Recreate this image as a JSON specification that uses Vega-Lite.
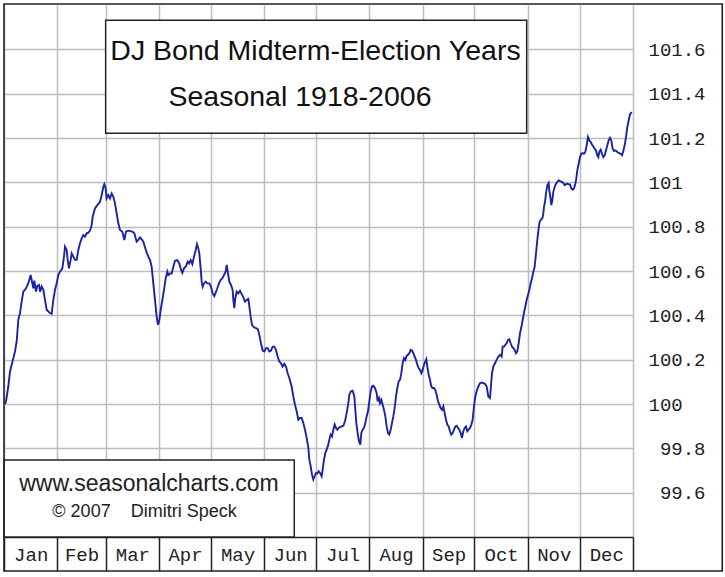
{
  "$schema": "https://vega.github.io/schema/vega-lite/v6.json",
  "description": "DJ Bond seasonal pattern in midterm-election years, 1918-2006.",
  "width": 629,
  "height": 532,
  "autosize": {"type": "none"},
  "padding": {"left": 4, "top": 5, "right": 92, "bottom": 40},
  "background": "white",
  "config": {"view": {"stroke": null}},
  "layer": [
    {
      "data": {"values": [
        {"day":0.58,"value":100.000},{"day":1.16,"value":100.012},{"day":2.51,"value":100.080},{"day":3.48,"value":100.147},{"day":4.45,"value":100.177},{"day":5.42,"value":100.207},{"day":6.38,"value":100.237},{"day":7.35,"value":100.282},{"day":8.32,"value":100.380},{"day":9.28,"value":100.410},{"day":10.25,"value":100.462},{"day":11.22,"value":100.507},{"day":12.77,"value":100.522},{"day":14.12,"value":100.545},{"day":15.47,"value":100.582},{"day":16.44,"value":100.545},{"day":17.02,"value":100.522},{"day":17.60,"value":100.557},{"day":18.57,"value":100.507},{"day":19.34,"value":100.533},{"day":20.31,"value":100.537},{"day":20.89,"value":100.507},{"day":21.86,"value":100.530},{"day":22.82,"value":100.515},{"day":23.79,"value":100.470},{"day":24.76,"value":100.425},{"day":26.31,"value":100.413},{"day":27.66,"value":100.407},{"day":28.63,"value":100.470},{"day":29.59,"value":100.515},{"day":30.56,"value":100.545},{"day":31.53,"value":100.582},{"day":32.50,"value":100.597},{"day":33.85,"value":100.612},{"day":34.82,"value":100.665},{"day":35.40,"value":100.710},{"day":36.36,"value":100.695},{"day":36.94,"value":100.650},{"day":37.72,"value":100.612},{"day":38.68,"value":100.650},{"day":39.26,"value":100.680},{"day":40.23,"value":100.665},{"day":41.20,"value":100.650},{"day":42.17,"value":100.650},{"day":43.13,"value":100.695},{"day":44.10,"value":100.725},{"day":45.07,"value":100.747},{"day":46.03,"value":100.762},{"day":47.00,"value":100.755},{"day":47.97,"value":100.770},{"day":48.94,"value":100.773},{"day":49.90,"value":100.782},{"day":50.87,"value":100.807},{"day":51.45,"value":100.845},{"day":52.80,"value":100.882},{"day":54.16,"value":100.897},{"day":55.71,"value":100.912},{"day":56.67,"value":100.942},{"day":57.64,"value":100.980},{"day":58.22,"value":100.992},{"day":58.99,"value":100.972},{"day":59.57,"value":100.927},{"day":60.54,"value":100.942},{"day":61.51,"value":100.927},{"day":62.48,"value":100.950},{"day":63.44,"value":100.935},{"day":64.41,"value":100.905},{"day":65.38,"value":100.860},{"day":66.34,"value":100.815},{"day":67.31,"value":100.785},{"day":68.67,"value":100.777},{"day":69.83,"value":100.740},{"day":70.79,"value":100.777},{"day":72.15,"value":100.782},{"day":73.50,"value":100.780},{"day":74.66,"value":100.777},{"day":75.63,"value":100.770},{"day":76.98,"value":100.732},{"day":77.95,"value":100.740},{"day":78.92,"value":100.752},{"day":79.88,"value":100.743},{"day":80.85,"value":100.732},{"day":81.82,"value":100.707},{"day":82.79,"value":100.683},{"day":83.75,"value":100.665},{"day":84.72,"value":100.650},
        {"day":85.69,"value":100.619},{"day":86.65,"value":100.544},{"day":87.62,"value":100.469},{"day":88.59,"value":100.394},{"day":89.36,"value":100.357},{"day":90.14,"value":100.379},{"day":90.91,"value":100.424},{"day":91.88,"value":100.469},{"day":92.84,"value":100.514},{"day":93.81,"value":100.567},{"day":94.78,"value":100.597},{"day":95.36,"value":100.582},{"day":96.32,"value":100.589},{"day":97.29,"value":100.589},{"day":98.26,"value":100.619},{"day":99.23,"value":100.646},{"day":100.58,"value":100.649},{"day":101.74,"value":100.634},{"day":102.51,"value":100.612},{"day":103.48,"value":100.592},{"day":104.45,"value":100.612},{"day":105.61,"value":100.622},{"day":106.58,"value":100.642},{"day":107.35,"value":100.634},{"day":108.32,"value":100.649},{"day":109.28,"value":100.631},{"day":110.25,"value":100.664},{"day":111.22,"value":100.694},{"day":111.99,"value":100.721},{"day":112.77,"value":100.702},{"day":113.35,"value":100.679},{"day":114.12,"value":100.612},{"day":114.70,"value":100.552},{"day":115.28,"value":100.529},{"day":116.05,"value":100.544},{"day":117.02,"value":100.552},{"day":117.99,"value":100.544},{"day":119.15,"value":100.544},{"day":120.12,"value":100.529},{"day":121.08,"value":100.499},{"day":122.05,"value":100.487},{"day":122.82,"value":100.502},{"day":123.79,"value":100.522},{"day":124.76,"value":100.544},{"day":125.73,"value":100.559},{"day":126.69,"value":100.567},{"day":127.66,"value":100.582},{"day":128.63,"value":100.597},{"day":129.21,"value":100.627},{"day":129.98,"value":100.589},{"day":130.75,"value":100.552},{"day":131.72,"value":100.537},{"day":132.69,"value":100.514},{"day":133.08,"value":100.469},{"day":133.66,"value":100.432},{"day":134.24,"value":100.477},{"day":135.01,"value":100.507},{"day":135.98,"value":100.499},{"day":136.94,"value":100.511},{"day":137.91,"value":100.496},{"day":138.88,"value":100.481},{"day":139.85,"value":100.462},{"day":140.81,"value":100.469},{"day":141.78,"value":100.474},{"day":142.36,"value":100.442},{"day":143.13,"value":100.394},{"day":143.91,"value":100.357},{"day":145.07,"value":100.346},{"day":146.23,"value":100.342},{"day":147.39,"value":100.337},{"day":148.16,"value":100.312},{"day":149.13,"value":100.274},{"day":150.10,"value":100.241},{"day":151.06,"value":100.237},{"day":152.03,"value":100.252},{"day":153.00,"value":100.252},{"day":153.97,"value":100.237},{"day":154.93,"value":100.241},{"day":155.90,"value":100.259},{"day":156.87,"value":100.259},{"day":157.83,"value":100.244},{"day":158.80,"value":100.214},{"day":159.77,"value":100.192},{"day":160.74,"value":100.184},{"day":161.70,"value":100.169},{"day":162.67,"value":100.181},{"day":163.64,"value":100.169},{"day":164.60,"value":100.139},{"day":165.57,"value":100.117},
        {"day":166.92,"value":100.079},{"day":167.89,"value":100.034},{"day":168.86,"value":99.997},{"day":169.83,"value":99.967},{"day":170.79,"value":99.929},{"day":171.76,"value":99.937},{"day":172.73,"value":99.937},{"day":173.69,"value":99.914},{"day":174.66,"value":99.884},{"day":175.63,"value":99.847},{"day":176.60,"value":99.802},{"day":177.18,"value":99.749},{"day":177.95,"value":99.719},{"day":178.72,"value":99.682},{"day":179.50,"value":99.659},{"day":180.27,"value":99.674},{"day":181.04,"value":99.689},{"day":181.82,"value":99.686},{"day":182.59,"value":99.697},{"day":183.37,"value":99.689},{"day":184.33,"value":99.674},{"day":184.91,"value":99.704},{"day":185.69,"value":99.749},{"day":186.46,"value":99.779},{"day":187.23,"value":99.794},{"day":188.01,"value":99.812},{"day":188.78,"value":99.839},{"day":189.56,"value":99.862},{"day":190.33,"value":99.854},{"day":191.10,"value":99.884},{"day":191.88,"value":99.907},{"day":192.65,"value":99.892},{"day":193.42,"value":99.884},{"day":194.20,"value":99.892},{"day":194.97,"value":99.896},{"day":195.94,"value":99.899},{"day":196.91,"value":99.902},{"day":197.87,"value":99.922},{"day":198.84,"value":99.959},{"day":199.81,"value":100.004},{"day":200.39,"value":100.042},{"day":201.35,"value":100.057},{"day":202.32,"value":100.060},{"day":203.29,"value":100.034},{"day":203.87,"value":99.974},{"day":204.45,"value":99.914},{"day":205.22,"value":99.869},{"day":205.99,"value":99.832},{"day":206.77,"value":99.817},{"day":207.35,"value":99.869},{"day":208.12,"value":99.884},{"day":208.90,"value":99.892},{"day":209.67,"value":99.914},{"day":210.44,"value":99.944},{"day":211.22,"value":99.967},{"day":211.99,"value":100.012},{"day":212.77,"value":100.057},{"day":213.54,"value":100.079},{"day":214.31,"value":100.082},{"day":215.28,"value":100.072},{"day":216.25,"value":100.049},{"day":216.83,"value":100.012},{"day":217.60,"value":100.027},{"day":218.18,"value":100.004},{"day":218.96,"value":100.019},{"day":219.73,"value":99.997},{"day":220.50,"value":99.974},{"day":221.28,"value":99.944},{"day":222.05,"value":99.899},{"day":222.82,"value":99.869},{"day":223.60,"value":99.862},{"day":224.37,"value":99.884},{"day":225.15,"value":99.914},{"day":225.92,"value":99.944},{"day":226.69,"value":99.982},{"day":227.47,"value":100.034},{"day":228.24,"value":100.072},{"day":229.01,"value":100.102},{"day":229.79,"value":100.109},{"day":230.56,"value":100.139},{"day":231.33,"value":100.184},{"day":232.11,"value":100.207},{"day":232.88,"value":100.199},{"day":233.66,"value":100.217},{"day":234.43,"value":100.222},{"day":235.20,"value":100.229},{"day":235.98,"value":100.244},{"day":236.75,"value":100.241},{"day":237.52,"value":100.229},{"day":238.30,"value":100.214},{"day":239.07,"value":100.199},{"day":239.85,"value":100.177},{"day":240.62,"value":100.162},{"day":241.39,"value":100.154},{"day":242.17,"value":100.139},{"day":242.94,"value":100.154},{"day":243.71,"value":100.177},{"day":244.49,"value":100.192},{"day":245.07,"value":100.202},{"day":245.65,"value":100.169},{"day":246.42,"value":100.132},{"day":247.20,"value":100.109},{"day":247.97,"value":100.079},{"day":248.74,"value":100.072},{"day":249.52,"value":100.072},{"day":250.29,"value":100.064},{"day":251.06,"value":100.042},{"day":251.84,"value":100.012},{"day":252.61,"value":99.997},{"day":253.38,"value":99.982},{"day":254.16,"value":99.974},{"day":254.93,"value":99.989},{"day":255.71,"value":99.959},{"day":256.48,"value":99.929},{"day":257.25,"value":99.907},{"day":258.03,"value":99.899},{"day":258.80,"value":99.877},{"day":259.57,"value":99.862},{"day":260.35,"value":99.869},{"day":261.12,"value":99.884},{"day":261.90,"value":99.899},{"day":262.67,"value":99.902},{"day":263.44,"value":99.892},{"day":264.22,"value":99.884},{"day":264.99,"value":99.869},{"day":265.76,"value":99.847},{"day":266.54,"value":99.877},{"day":267.31,"value":99.892},{"day":268.09,"value":99.899},{"day":268.86,"value":99.877},{"day":269.63,"value":99.884},{"day":270.41,"value":99.892},{"day":271.18,"value":99.907},{"day":271.95,"value":99.929},{"day":272.73,"value":99.989},{"day":273.50,"value":100.034},{"day":274.27,"value":100.057},{"day":275.24,"value":100.079},{"day":276.21,"value":100.094},{"day":277.18,"value":100.097},{"day":278.14,"value":100.094},{"day":279.11,"value":100.091},{"day":280.08,"value":100.079},{"day":281.04,"value":100.034},{"day":282.01,"value":100.027},
        {"day":282.40,"value":100.064},{"day":283.17,"value":100.139},{"day":283.95,"value":100.169},{"day":284.91,"value":100.184},{"day":285.88,"value":100.199},{"day":286.85,"value":100.214},{"day":287.81,"value":100.222},{"day":288.78,"value":100.214},{"day":289.36,"value":100.259},{"day":290.14,"value":100.259},{"day":290.91,"value":100.267},{"day":291.68,"value":100.274},{"day":292.46,"value":100.289},{"day":293.23,"value":100.292},{"day":294.00,"value":100.274},{"day":294.78,"value":100.259},{"day":295.55,"value":100.252},{"day":296.32,"value":100.244},{"day":297.10,"value":100.229},{"day":297.87,"value":100.237},{"day":298.65,"value":100.274},{"day":299.42,"value":100.319},{"day":300.19,"value":100.346},{"day":300.97,"value":100.379},{"day":301.74,"value":100.412},{"day":302.51,"value":100.439},{"day":303.29,"value":100.469},{"day":304.06,"value":100.492},{"day":304.84,"value":100.514},{"day":305.61,"value":100.544},{"day":306.38,"value":100.567},{"day":307.16,"value":100.597},{"day":307.93,"value":100.619},{"day":308.51,"value":100.664},{"day":309.09,"value":100.709},{"day":309.67,"value":100.754},{"day":310.25,"value":100.792},{"day":310.83,"value":100.822},{"day":311.61,"value":100.832},{"day":312.38,"value":100.837},{"day":312.96,"value":100.859},{"day":313.35,"value":100.889},{"day":313.93,"value":100.912},{"day":314.51,"value":100.949},{"day":315.28,"value":100.987},{"day":316.05,"value":100.997},{"day":316.44,"value":100.964},{"day":317.02,"value":100.934},{"day":317.60,"value":100.897},{"day":318.18,"value":100.919},{"day":318.76,"value":100.957},{"day":319.54,"value":100.979},{"day":320.31,"value":100.994},{"day":321.08,"value":101.002},{"day":321.86,"value":101.009},{"day":322.63,"value":101.006},{"day":323.60,"value":101.002},{"day":324.56,"value":100.997},{"day":325.34,"value":100.987},{"day":326.11,"value":100.991},{"day":326.89,"value":100.994},{"day":327.66,"value":100.991},{"day":328.43,"value":100.991},{"day":329.21,"value":100.972},{"day":329.98,"value":100.967},{"day":330.75,"value":100.972},{"day":331.53,"value":100.994},{"day":332.11,"value":101.017},{"day":332.69,"value":101.054},{"day":333.46,"value":101.084},{"day":334.24,"value":101.114},{"day":335.01,"value":101.129},{"day":335.78,"value":101.132},{"day":336.56,"value":101.129},{"day":337.33,"value":101.137},{"day":338.10,"value":101.167},{"day":338.88,"value":101.204},{"day":339.65,"value":101.189},{"day":340.43,"value":101.182},{"day":341.20,"value":101.171},{"day":341.97,"value":101.162},{"day":342.75,"value":101.152},{"day":343.52,"value":101.144},{"day":344.29,"value":101.122},{"day":344.87,"value":101.114},{"day":345.45,"value":101.137},{"day":346.23,"value":101.147},{"day":347.00,"value":101.129},{"day":347.78,"value":101.114},{"day":348.55,"value":101.122},{"day":349.32,"value":101.144},{"day":350.10,"value":101.167},{"day":350.87,"value":101.189},{"day":351.64,"value":101.201},{"day":352.42,"value":101.189},{"day":353.19,"value":101.152},{"day":353.97,"value":101.141},{"day":354.74,"value":101.144},{"day":355.51,"value":101.140},{"day":356.29,"value":101.134},{"day":357.06,"value":101.132},{"day":357.83,"value":101.129},{"day":358.61,"value":101.122},{"day":359.38,"value":101.141},{"day":360.15,"value":101.167},{"day":360.93,"value":101.204},{"day":361.70,"value":101.249},{"day":362.48,"value":101.279},{"day":363.25,"value":101.306},{"day":364.22,"value":101.317}
      ]},
      "mark": {"type": "line", "color": "#1a23a6", "strokeWidth": 1.9},
      "encoding": {
        "x": {
          "field": "day",
          "type": "quantitative",
          "scale": {"domain": [0, 365], "nice": false, "zero": false},
          "axis": {
            "title": null,
            "values": [0, 31, 59, 90, 120, 151, 181, 212, 243, 273, 304, 334, 365],
            "labelExpr": "['Jan','Feb','Mar','Apr','May','Jun','Jul','Aug','Sep','Oct','Nov','Dec',''][indexof([0,31,59,90,120,151,181,212,243,273,304,334,365], datum.value)]",
            "grid": true,
            "gridColor": "#bdbdbd",
            "gridWidth": 1.5,
            "domainColor": "#222222",
            "domainWidth": 1.5,
            "tickColor": "#222222",
            "tickWidth": 1.5,
            "tickSize": 34,
            "labelFont": "Liberation Mono",
            "labelFontSize": 19,
            "labelColor": "#222222",
            "labelOverlap": false,
            "labelFlush": false,
            "labelBound": false,
            "labelAlign": "center",
            "labelBaseline": "middle",
            "labelPadding": -16.5,
            "labelOffset": {
              "condition": [
                {"test": "datum.value == 31", "value": 24.1},
                {"test": "indexof([90,151,243,304], datum.value) >= 0", "value": 25.9}
              ],
              "value": 26.7
            }
          }
        },
        "y": {
          "field": "value",
          "type": "quantitative",
          "scale": {"domain": [99.4, 101.8], "nice": false, "zero": false},
          "axis": {
            "orient": "right",
            "title": null,
            "values": [99.6, 99.8, 100, 100.2, 100.4, 100.6, 100.8, 101, 101.2, 101.4, 101.6],
            "format": ".1~f",
            "grid": true,
            "gridColor": "#bdbdbd",
            "gridWidth": 1.5,
            "ticks": false,
            "domain": false,
            "labelFont": "Liberation Mono",
            "labelFontSize": 19,
            "labelColor": "#222222",
            "labelAlign": {"condition": {"test": "datum.value < 100", "value": "right"}, "value": "left"},
            "labelPadding": {"condition": {"test": "datum.value < 100", "value": 72}, "value": 15},
            "labelBaseline": "middle"
          }
        }
      }
    },
    {
      "data": {"values": [{}]},
      "mark": {"type": "rect", "fill": "white", "stroke": "#222222", "strokeWidth": 1.5},
      "encoding": {
        "x": {"datum": 58.99, "type": "quantitative"},
        "x2": {"datum": 303.31},
        "y": {"datum": 101.731, "type": "quantitative"},
        "y2": {"datum": 101.221}
      }
    },
    {
      "data": {"values": [{}]},
      "mark": {"type": "text", "font": "Liberation Sans", "fontSize": 28.5, "color": "#111111", "align": "center", "baseline": "alphabetic", "text": "DJ Bond Midterm-Election Years"},
      "encoding": {
        "x": {"datum": 180.76, "type": "quantitative"},
        "y": {"datum": 101.552, "type": "quantitative"}
      }
    },
    {
      "data": {"values": [{}]},
      "mark": {"type": "text", "font": "Liberation Sans", "fontSize": 28.5, "color": "#111111", "align": "center", "baseline": "alphabetic", "text": "Seasonal 1918-2006"},
      "encoding": {
        "x": {"datum": 171.76, "type": "quantitative"},
        "y": {"datum": 101.346, "type": "quantitative"}
      }
    },
    {
      "data": {"values": [{}]},
      "mark": {"type": "rect", "fill": "white", "stroke": "#222222", "strokeWidth": 1.5},
      "encoding": {
        "x": {"datum": 0, "type": "quantitative"},
        "x2": {"datum": 168.45},
        "y": {"datum": 99.747, "type": "quantitative"},
        "y2": {"datum": 99.4}
      }
    },
    {
      "data": {"values": [{}]},
      "mark": {"type": "text", "font": "Liberation Sans", "fontSize": 23, "color": "#222222", "align": "center", "baseline": "alphabetic", "text": "www.seasonalcharts.com"},
      "encoding": {
        "x": {"datum": 84.14, "type": "quantitative"},
        "y": {"datum": 99.609, "type": "quantitative"}
      }
    },
    {
      "data": {"values": [{}]},
      "mark": {"type": "text", "font": "Liberation Sans", "fontSize": 18, "color": "#222222", "align": "center", "baseline": "alphabetic", "text": "© 2007\u00a0\u00a0\u00a0\u00a0Dimitri Speck"},
      "encoding": {
        "x": {"datum": 81.53, "type": "quantitative"},
        "y": {"datum": 99.492, "type": "quantitative"}
      }
    },
    {
      "data": {"values": [{}]},
      "mark": {"type": "rect", "fill": null, "stroke": "#222222", "strokeWidth": 1.6},
      "encoding": {
        "x": {"datum": 0, "type": "quantitative"},
        "x2": {"datum": 416.8},
        "y": {"datum": 101.8045, "type": "quantitative"},
        "y2": {"datum": 99.2466}
      }
    }
  ]
}
